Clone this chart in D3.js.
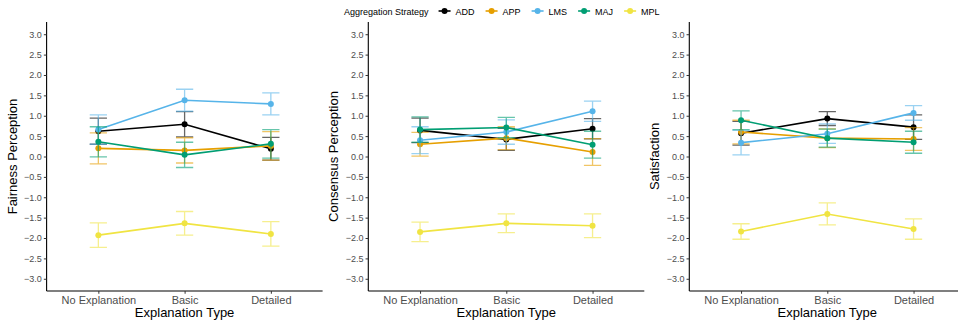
<!DOCTYPE html>
<html>
<head>
<meta charset="utf-8">
<script src="https://cdn.jsdelivr.net/npm/d3@7"></script>
<style>
  body { margin: 0; background: #fff; }
  svg { display: block; font-family: "Liberation Sans", Arial, sans-serif; }
</style>
</head>
<body>
<div id="chart"></div>
<script>
const categories = ["No Explanation", "Basic", "Detailed"];
const strategies = ["ADD", "APP", "LMS", "MAJ", "MPL"];
const colors = ["#000000", "#E69F00", "#56B4E9", "#009E73", "#F0E442"];
const yTicks = [3, 2.5, 2, 1.5, 1, 0.5, 0, -0.5, -1, -1.5, -2, -2.5, -3];

// rows follow strategies order
const fairnessMean = [
    [0.62, 0.79, 0.19],
    [0.20, 0.15, 0.26],
    [0.66, 1.38, 1.29],
    [0.36, 0.04, 0.31],
    [-1.93, -1.64, -1.90]
];
const fairnessErr = [
    [0.32, 0.31, 0.28],
    [0.38, 0.31, 0.35],
    [0.36, 0.27, 0.27],
    [0.37, 0.31, 0.35],
    [0.30, 0.29, 0.30]
];
const consensusMean = [
    [0.64, 0.42, 0.68],
    [0.30, 0.45, 0.11],
    [0.40, 0.60, 1.11],
    [0.66, 0.71, 0.29],
    [-1.85, -1.64, -1.70]
];
const consensusErr = [
    [0.30, 0.27, 0.25],
    [0.29, 0.28, 0.33],
    [0.33, 0.30, 0.25],
    [0.31, 0.25, 0.33],
    [0.24, 0.23, 0.29]
];
const satisfactionMean = [
    [0.57, 0.93, 0.72],
    [0.60, 0.45, 0.43],
    [0.34, 0.56, 1.07],
    [0.89, 0.45, 0.35],
    [-1.84, -1.41, -1.78]
];
const satisfactionErr = [
    [0.29, 0.17, 0.30],
    [0.29, 0.23, 0.28],
    [0.30, 0.24, 0.18],
    [0.23, 0.22, 0.27],
    [0.19, 0.27, 0.25]
];

const panels = [
    {title: "Fairness Perception", mean: fairnessMean, err: fairnessErr},
    {title: "Consensus Perception", mean: consensusMean, err: consensusErr},
    {title: "Satisfaction", mean: satisfactionMean, err: satisfactionErr}
];

const width = 958;
const height = 324;
const panelLeft = [46.6, 368.3, 689.3];
const panelWidth = 276;
const plotTop = 22;
const plotBottom = 291;

const svg = d3.select("#chart")
    .append("svg")
    .attr("width", width)
    .attr("height", height);

const y = d3.scaleLinear()
    .domain([-3.3, 3.3])
    .range([plotBottom, plotTop]);

const fmt = d => d3.format(".1f")(d).replace("-", "\u2212");

panels.forEach(function (p, pi) {
    const left = panelLeft[pi];
    const x = d3.scalePoint()
        .domain(categories)
        .range([left, left + panelWidth])
        .padding(0.6);
    const capHalf = x.step() * 0.1;

    const g = svg.append("g");

    // y axis
    const yAxis = g.append("g")
        .attr("transform", "translate(" + left + ",0)")
        .call(d3.axisLeft(y).tickValues(yTicks).tickFormat(fmt).tickSize(2.75).tickPadding(2));
    yAxis.select(".domain").attr("d", "M0," + plotTop + "V" + plotBottom).attr("stroke", "#000").attr("stroke-width", 1.1);

    // x axis
    const xAxis = g.append("g")
        .attr("transform", "translate(0," + plotBottom + ")")
        .call(d3.axisBottom(x).tickSize(2.75).tickPadding(2));
    xAxis.select(".domain").attr("d", "M" + left + ",0H" + (left + panelWidth)).attr("stroke", "#000").attr("stroke-width", 1.1);

    g.selectAll(".tick line").attr("stroke", "#333");
    g.selectAll(".tick text")
        .attr("fill", "#4d4d4d")
        .style("font-size", "9px")
        .style("font-family", "Liberation Sans, Arial, sans-serif");
    xAxis.selectAll(".tick text").style("font-size", "11px");

    // axis titles
    g.append("text")
        .attr("x", left + panelWidth / 2)
        .attr("y", 317)
        .attr("text-anchor", "middle")
        .style("font-size", "13px")
        .text("Explanation Type");
    g.append("text")
        .attr("transform", "translate(" + (left - 30) + "," + ((plotTop + plotBottom) / 2) + ") rotate(-90)")
        .attr("text-anchor", "middle")
        .style("font-size", "13px")
        .text(p.title);

    const line = d3.line()
        .x((d, i) => x(categories[i]))
        .y(d => y(d));

    strategies.forEach(function (s, si) {
        const means = p.mean[si];
        const errs = p.err[si];
        const col = colors[si];
        const sg = g.append("g");

        // error bars
        sg.selectAll(".eb")
            .data(means)
            .enter()
            .append("path")
            .attr("d", function (d, i) {
                const cx = x(categories[i]);
                const y1 = y(d + errs[i]);
                const y0 = y(d - errs[i]);
                return "M" + (cx - capHalf) + "," + y1 + "H" + (cx + capHalf) +
                    "M" + cx + "," + y1 + "V" + y0 +
                    "M" + (cx - capHalf) + "," + y0 + "H" + (cx + capHalf);
            })
            .attr("fill", "none")
            .attr("stroke", col)
            .attr("stroke-width", 1.3)
            .attr("stroke-opacity", 0.6);

        sg.append("path")
            .datum(means)
            .attr("d", line)
            .attr("fill", "none")
            .attr("stroke", col)
            .attr("stroke-width", 1.6);

        sg.selectAll("circle")
            .data(means)
            .enter()
            .append("circle")
            .attr("cx", (d, i) => x(categories[i]))
            .attr("cy", d => y(d))
            .attr("r", 3)
            .attr("fill", col);
    });
});

// legend
const legend = svg.append("g").attr("transform", "translate(0,11)");
const legTitle = legend.append("text")
    .attr("x", 344)
    .attr("y", 3.5)
    .style("font-size", "9px")
    .text("Aggregation Strategy");
let lx = 344 + legTitle.node().getComputedTextLength() + 10;
strategies.forEach(function (s, i) {
    const item = legend.append("g").attr("transform", "translate(" + lx + ",0)");
    item.append("line")
        .attr("x1", 0).attr("x2", 12)
        .attr("stroke", colors[i]).attr("stroke-width", 1.6);
    item.append("circle")
        .attr("cx", 6).attr("r", 3)
        .attr("fill", colors[i]);
    const t = item.append("text")
        .attr("x", 17)
        .attr("y", 3.5)
        .style("font-size", "9px")
        .text(s);
    lx += 17 + t.node().getComputedTextLength() + 11;
});
</script>
</body>
</html>
